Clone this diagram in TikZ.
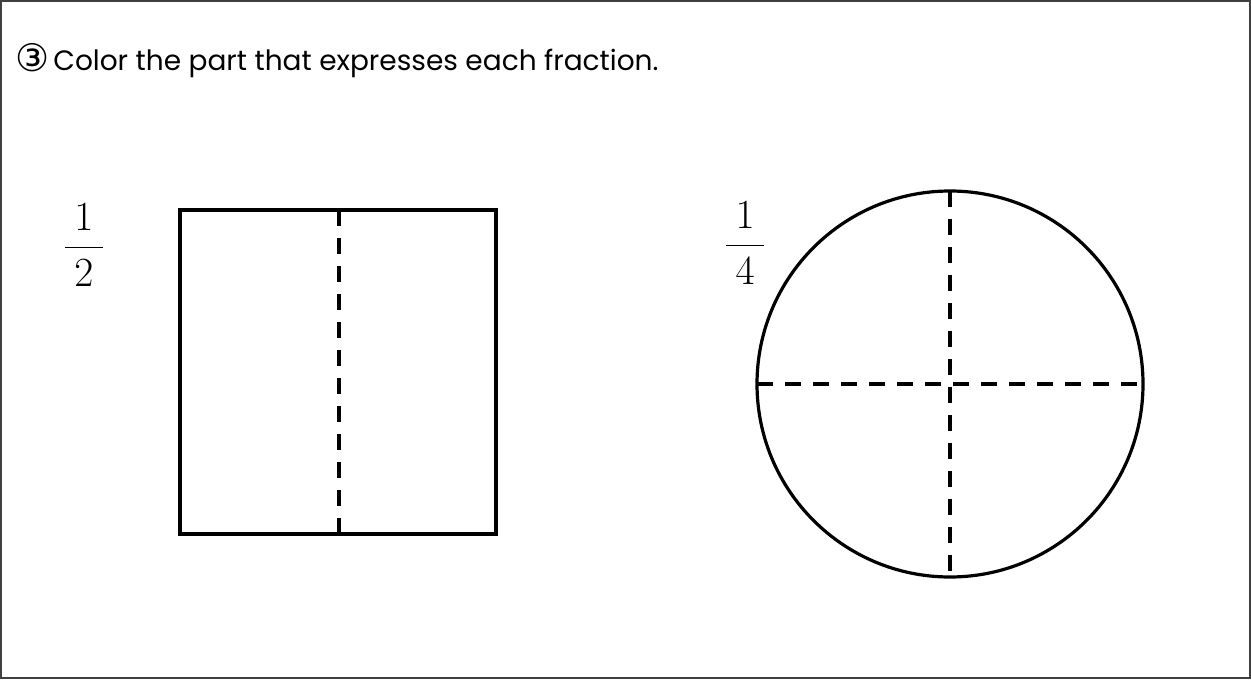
\documentclass[tikz,border=0pt]{standalone}
\usepackage{fontspec}
\setmainfont{Poppins}
\newfontfamily\symfont{DejaVu Sans}
\begin{document}
\begin{tikzpicture}[x=0.5pt,y=-0.5pt,
  outline/.style={line width=1.6pt,black},
  divider/.style={line width=1.6pt,black,dash pattern=on 8pt off 6pt},
  frac/.style={font=\fontsize{22}{26}\selectfont,inner sep=0pt}]
\useasboundingbox (0,0) rectangle (1251,679);
\draw[line width=1pt,black!75] (1,1) rectangle (1250,678);
\node[anchor=base west,inner sep=0pt,font=\fontsize{19}{20}\selectfont\symfont] (num) at (15,72) {③};
\node[anchor=base west,inner sep=0pt,font=\fontsize{14}{16}\selectfont] (title) at (53,71) {Color the part that expresses each fraction.};
% square
\node[frac] (f1) at (84,245) {$\displaystyle\frac{\mkern4mu 1\mkern4mu}{\mkern4mu 2\mkern4mu}$};
\draw[outline] (180,210) coordinate (sq1) rectangle (496,534) coordinate (sq2);
\coordinate (st) at (339,210);
\coordinate (sb) at (339,534);
\draw[divider] (st) -- (sb);
% circle
\node[frac] (f2) at (745,243) {$\displaystyle\frac{\mkern4mu 1\mkern4mu}{\mkern4mu 4\mkern4mu}$};
\coordinate (c) at (950,384);
\draw[outline] (c) circle[radius=193];
\coordinate (ct) at (950,191);
\coordinate (cb) at (950,577);
\coordinate (cl) at (757,384);
\coordinate (cr) at (1143,384);
\draw[divider] (ct) -- (cb);
\draw[divider] (cl) -- (cr);
\end{tikzpicture}
\end{document}
